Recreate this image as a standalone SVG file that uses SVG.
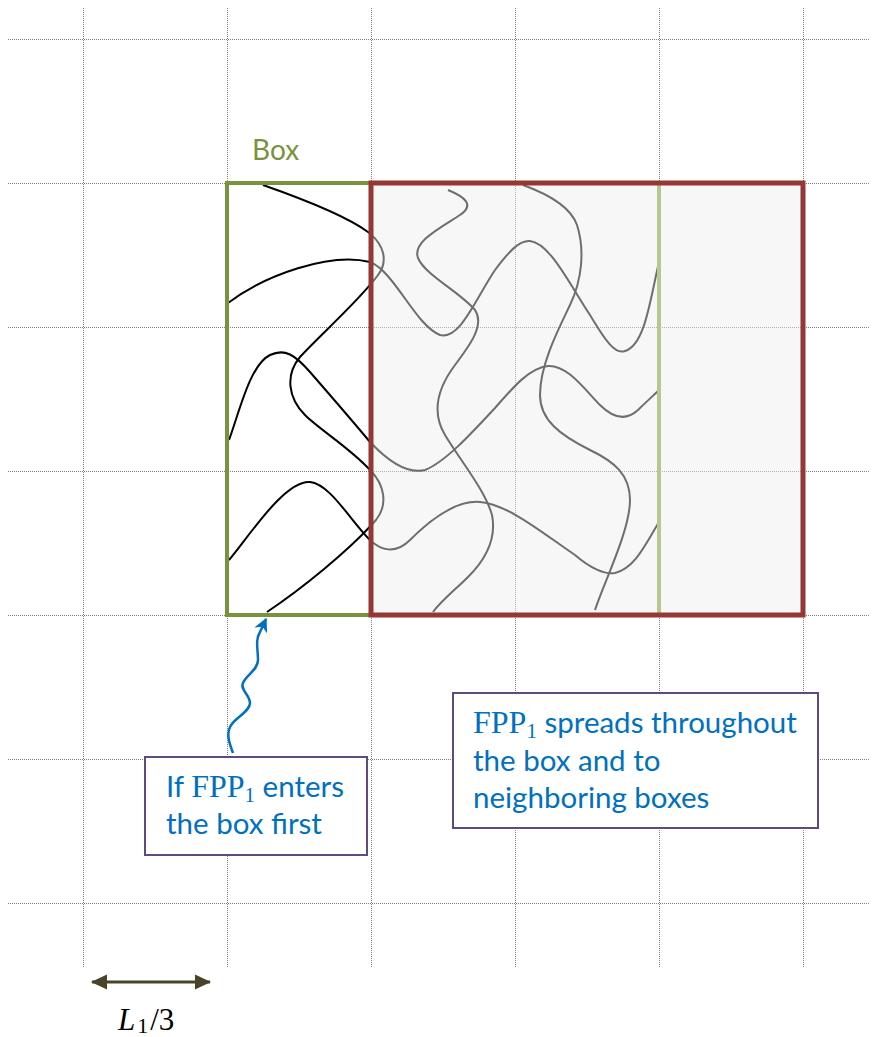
<svg xmlns="http://www.w3.org/2000/svg" xmlns:xlink="http://www.w3.org/1999/xlink" width="875" height="1037" viewBox="0 0 875 1037">
<style>
.grid line{stroke:#808080;stroke-width:1;stroke-dasharray:1 1}
.sans{font-family:Lato,"Liberation Sans",sans-serif}
.serif{font-family:"Liberation Serif","DejaVu Serif",serif}
.blue{fill:#0070C0}
.note{fill:#ffffff;stroke:#604A7B;stroke-width:2}
.walk path{fill:none;stroke-width:2}
</style>
<defs>
<clipPath id="leftClip"><rect x="0" y="0" width="371" height="1037"/></clipPath>
<clipPath id="rightClip"><rect x="371" y="0" width="504" height="1037"/></clipPath>
<marker id="blueHead" viewBox="0 0 10 10" refX="9" refY="5" markerWidth="14" markerHeight="14" markerUnits="userSpaceOnUse" orient="auto"><path d="M0,0 L10,5 L0,10 L3,5 Z" fill="#0070C0"/></marker>
<marker id="dimHead" viewBox="0 0 16 16" refX="15" refY="8" markerWidth="16" markerHeight="16" markerUnits="userSpaceOnUse" orient="auto-start-reverse"><path d="M0,0.5 L16,8 L0,15.5 Z" fill="#494429"/></marker>
<g id="walks" class="walk">
<path d="M263,185 C300,198 345,215 368,232 C385,245 388,262 378,275 C360,300 320,335 300,357 C285,375 288,398 305,415 C320,430 350,448 370,470 C385,485 388,505 376,520 C350,550 300,590 267,612"/>
<path d="M228,303 C265,275 330,252 370,262 C395,272 415,325 440,335 C460,340 475,300 495,270 C510,250 520,240 530,241 C550,243 570,285 590,315 C605,340 615,355 625,351 C645,345 650,300 659,262"/>
<path d="M229,440 C240,410 250,365 270,355 C285,348 295,355 310,372 C330,395 350,418 370,442 C385,458 405,475 425,470 C445,462 470,435 495,408 C515,385 530,368 548,366 C568,365 585,390 600,405 C612,417 625,422 638,410 C648,400 652,397 659,390"/>
<path d="M229,560 C250,535 285,480 310,482 C330,484 350,520 370,540 C380,550 395,555 410,540 C430,520 455,500 480,502 C510,505 545,535 575,555 C590,568 605,575 615,573 C635,568 645,545 659,522"/>
<path d="M448,190 C465,197 475,205 460,215 C440,228 412,242 418,258 C425,275 460,292 475,310 C485,325 470,345 455,365 C440,385 430,410 445,435 C460,460 485,490 492,515 C497,540 485,560 468,577 C455,590 442,600 433,612"/>
<path d="M523,185 C545,193 570,205 577,225 C585,250 582,280 570,305 C558,330 540,365 540,395 C540,420 560,435 590,450 C615,462 630,475 630,500 C630,530 605,580 595,610"/>
</g>
</defs>

<g id="grid" class="grid">
<line x1="83.5" y1="8" x2="83.5" y2="968"/>
<line x1="227.5" y1="8" x2="227.5" y2="968"/>
<line x1="371.5" y1="8" x2="371.5" y2="968"/>
<line x1="515.5" y1="8" x2="515.5" y2="968"/>
<line x1="659.5" y1="8" x2="659.5" y2="968"/>
<line x1="803.5" y1="8" x2="803.5" y2="968"/>
<line x1="8" y1="39.5" x2="870" y2="39.5"/>
<line x1="8" y1="183.5" x2="870" y2="183.5"/>
<line x1="8" y1="327.5" x2="870" y2="327.5"/>
<line x1="8" y1="471.5" x2="870" y2="471.5"/>
<line x1="8" y1="615.5" x2="870" y2="615.5"/>
<line x1="8" y1="759.5" x2="870" y2="759.5"/>
<line x1="8" y1="903.5" x2="870" y2="903.5"/>
</g>

<g id="spread-region">
<rect x="371" y="183" width="432" height="432" fill="#EEEEEE" fill-opacity="0.45"/>
</g>

<g id="paths">
<use xlink:href="#walks" href="#walks" stroke="#000000" clip-path="url(#leftClip)"/>
<use xlink:href="#walks" href="#walks" stroke="#6E6E6E" clip-path="url(#rightClip)"/>
</g>

<g id="box">
<rect x="227" y="183" width="144" height="432" fill="none" stroke="#77933C" stroke-width="4"/>
<text x="252" y="160" class="sans" font-size="28" fill="#77933C">Box</text>
</g>

<g id="neighbor-line">
<line x1="659" y1="185" x2="659" y2="613" stroke="#B5C793" stroke-width="4"/>
</g>

<g id="neighbor-boxes">
<rect x="371" y="183" width="432" height="432" fill="none" stroke="#953735" stroke-width="5"/>
</g>

<g id="note-enter">
<rect class="note" x="145" y="757" width="222" height="98"/>
<text x="166" y="797" class="blue" font-size="29.5"><tspan class="sans">If </tspan><tspan class="serif" font-size="32">FPP</tspan><tspan class="serif" font-size="21" dy="5">1</tspan><tspan class="sans" dy="-5"> enters</tspan></text>
<text x="166" y="834" class="sans blue" font-size="29.5">the box first</text>
</g>

<g id="note-spread">
<rect class="note" x="453" y="693" width="365" height="135"/>
<text x="473" y="733" class="blue" font-size="29.5"><tspan class="serif" font-size="32">FPP</tspan><tspan class="serif" font-size="21" dy="5">1</tspan><tspan class="sans" dy="-5"> spreads throughout</tspan></text>
<text x="473" y="771" class="sans blue" font-size="29.5">the box and to</text>
<text x="473" y="808" class="sans blue" font-size="29.5">neighboring boxes</text>
</g>

<g id="connectors">
<path d="M233,753 C230,745 226,735 230,727 C234,718 250,712 250,703 C250,695 240,690 243,683 C246,675 258,670 258,660 C258,650 255,640 260,632 L266,619" fill="none" stroke="#0070C0" stroke-width="2.5" marker-end="url(#blueHead)"/>
<line x1="92" y1="982" x2="210" y2="982" stroke="#494429" stroke-width="3" marker-start="url(#dimHead)" marker-end="url(#dimHead)"/>
</g>

<g id="scale-label">
<text x="118" y="1030" class="serif" font-size="31" fill="#000"><tspan font-style="italic">L</tspan><tspan font-size="22" dy="3" dx="2">1</tspan><tspan dy="-3" dx="2">/3</tspan></text>
</g>
</svg>
